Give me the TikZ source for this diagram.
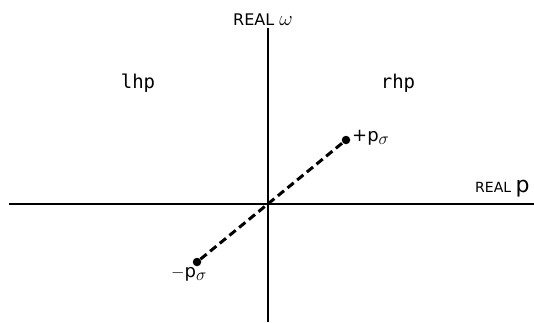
\documentclass[tikz,border=0pt]{standalone}
\usepackage{fontspec}
\setsansfont{DejaVu Sans}
\setmonofont{DejaVu Sans Mono}
\usetikzlibrary{positioning}

\begin{document}
\begin{tikzpicture}[x=1pt, y=-1pt,
    axis/.style={line width=2pt, black},
    pole/.style={circle, fill=black, inner sep=0pt, minimum size=8.5pt},
    axlabel/.style={font=\sffamily\fontsize{16}{18}\selectfont, inner sep=0pt},
    half/.style={font=\ttfamily\fontsize{19}{21}\selectfont},
    polelab/.style={font=\sffamily\fontsize{18}{20}\selectfont, inner sep=0pt},
]
\useasboundingbox (0,0) rectangle (534,322);

% axes
\coordinate (o) at (268,204);
\coordinate (left) at (9,204);
\coordinate (right) at (534,204);
\coordinate (top) at (268,28);
\coordinate (bottom) at (268,322);
\draw[axis] (left) -- (right);
\draw[axis] (top) -- (bottom);

\node[axlabel, anchor=base west] (w) at (233,25) {REAL {\fontsize{22}{24}\selectfont$\omega$}};
\node[axlabel, anchor=base west, font=\sffamily\fontsize{14}{16}\selectfont] (p) at (475,192) {REAL {\fontsize{22}{24}\selectfont p}};

% half planes
\node[half] (lhp) at (138,83) {lhp};
\node[half] (rhp) at (398,83) {rhp};

% poles
\node[pole] (pp) at (346,140) {};
\node[pole] (pm) at (197,262) {};
\draw[line width=3pt, dash pattern=on 8pt off 4.5pt] (pm) -- (pp);
\node[polelab, anchor=base west] (lp) at (352,141) {+p{\fontsize{26}{28}\selectfont$_\sigma$}};
\node[polelab, anchor=base west] (lm) at (171,277) {$-$p{\fontsize{26}{28}\selectfont$_\sigma$}};
\end{tikzpicture}
\end{document}
